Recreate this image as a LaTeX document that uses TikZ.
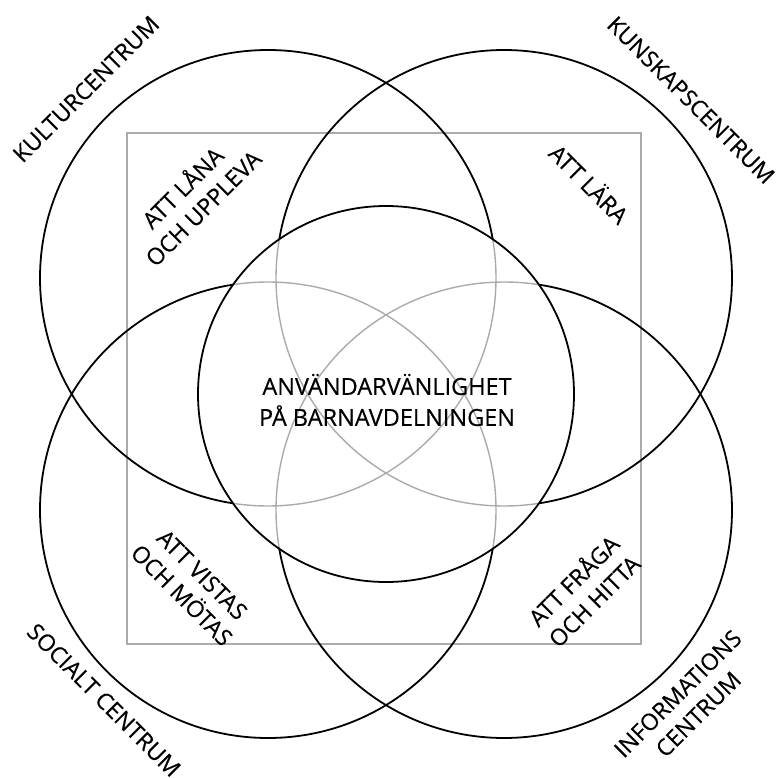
\documentclass[tikz,border=0pt]{standalone}
\usepackage{fontspec}
\setmainfont{Open Sans}[FakeBold=0.35]
\newfontfamily\lblfont{Open Sans}[FakeBold=0.35]
\begin{document}
\begin{tikzpicture}[x=1pt,y=-1pt,
  bigc/.style={circle, draw=black, line width=1.8pt, minimum size=456pt, inner sep=0pt},
  grayline/.style={draw=black!33, line width=1.4pt},
  lbl/.style={font=\lblfont\fontsize{23}{29}\selectfont, align=center, inner sep=0pt, text=black},
  clbl/.style={font=\lblfont\fontsize{23.5}{31}\selectfont, align=center, inner sep=0pt, text=black}]
\useasboundingbox (0,0) rectangle (776,778);
% square
\node[draw=black!33, line width=1.4pt, minimum width=514pt, minimum height=511pt, inner sep=0pt] (sq) at (384,388.5) {};
% big circles
\node[bigc] (kultur) at (268,278) {};
\node[bigc] (kunskap) at (504,278) {};
\node[bigc] (social) at (268,510) {};
\node[bigc] (info) at (504,510) {};
% central
\fill[white] (386,394) circle (188);
\begin{scope}
  \clip (386,394) circle (188);
  \draw[grayline] (268,278) circle (228);
  \draw[grayline] (504,278) circle (228);
  \draw[grayline] (268,510) circle (228);
  \draw[grayline] (504,510) circle (228);
\end{scope}
\node[circle, draw=black, line width=1.8pt, minimum size=376pt, inner sep=0pt] (mid) at (386,394) {};
% texts
\node[clbl] (midtxt) at (387,400) {ANVÄNDARVÄNLIGHET\\PÅ BARNAVDELNINGEN};
\node[lbl, rotate=45] (t1) at (86,89) {KULTURCENTRUM};
\node[lbl, rotate=-45] (t2) at (691,100) {KUNSKAPSCENTRUM};
\node[lbl, rotate=-45] (t3) at (104,700) {SOCIALT CENTRUM};
\node[lbl, rotate=45] (t4) at (688,704) {INFORMATIONS\\CENTRUM};
\node[lbl, rotate=45] (t5) at (192,197) {ATT LÅNA\\OCH UPPLEVA};
\node[lbl, rotate=-45] (t6) at (590,183) {ATT LÄRA};
\node[lbl, rotate=-45] (t7) at (192,585) {ATT VISTAS\\OCH MÖTAS};
\node[lbl, rotate=45] (t8) at (583,590) {ATT FRÅGA\\OCH HITTA};
\end{tikzpicture}
\end{document}
